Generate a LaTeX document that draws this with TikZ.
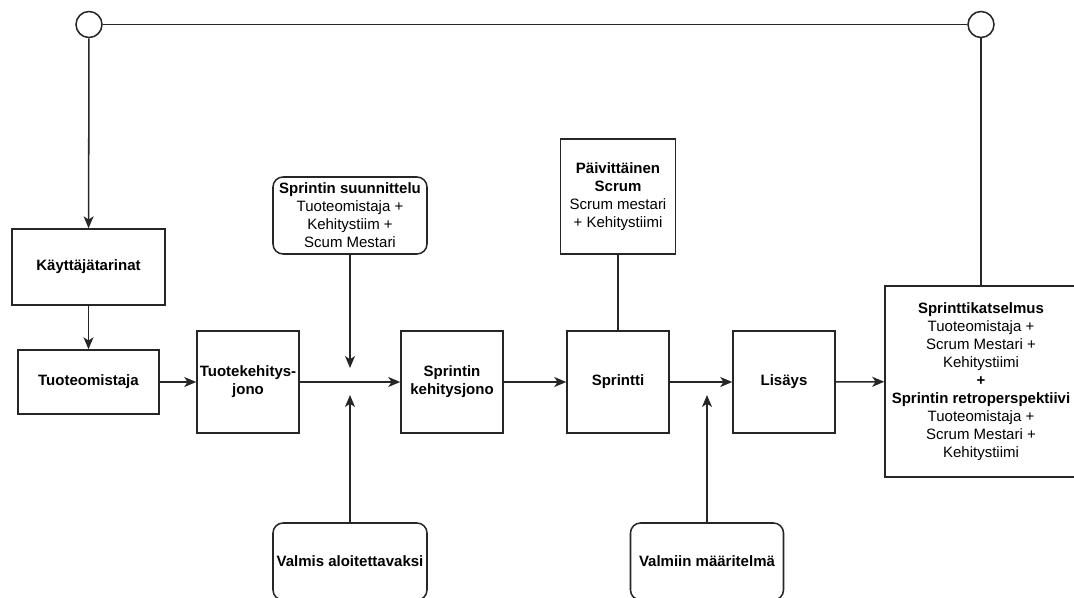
\documentclass[tikz,border=0pt]{standalone}
\usepackage{fontspec}
\setmainfont{Liberation Sans}
\usetikzlibrary{arrows.meta}
\begin{document}
\begin{tikzpicture}[x=0.75pt,y=-0.75pt,
  wh/.style 2 args={minimum width=#1*0.75pt, minimum height=#2*0.75pt},
  box/.style={draw=black!85, line width=1.15pt, fill=white, align=center, inner sep=0pt,
    font=\fontsize{11.25pt}{13.5pt}\selectfont},
  rbox/.style={box, rounded corners=7.5pt},
  circ/.style={draw=black!85, line width=1.15pt, circle, minimum size=19.5pt, inner sep=0pt, fill=white},
  conn/.style={draw=black!85, line width=1.15pt},
  arr/.style={conn, -{Stealth[length=9pt,width=7.5pt,inset=2.5pt]}},
]
\useasboundingbox (0,0) rectangle (1074,597);

\node[circ] (c1) at (89,24.5) {};
\node[circ] (c2) at (981,24.5) {};

\node[box, wh={153}{76}] (kt) at (88.5,267) {\textbf{Käyttäjätarinat}};
\node[box, wh={141}{64}] (to) at (88.5,382) {\textbf{Tuoteomistaja}};
\node[box, wh={102}{102}] (tkj) at (248,382) {\textbf{Tuotekehitys-}\\\textbf{jono}};
\node[box, wh={102}{102}] (skj) at (452,382) {\textbf{Sprintin}\\\textbf{kehitysjono}};
\node[box, wh={102}{102}] (sp) at (618,382) {\textbf{Sprintti}};
\node[box, wh={102}{102}] (li) at (784,382) {\textbf{Lisäys}};
\node[box, wh={192}{191}] (rev) at (981,381.5) {\textbf{Sprinttikatselmus}\\Tuoteomistaja +\\Scrum Mestari +\\Kehitystiimi\\\textbf{+}\\\textbf{Sprintin retroperspektiivi}\\Tuoteomistaja +\\Scrum Mestari +\\Kehitystiimi};

\node[rbox, wh={154}{77}] (ss) at (350,215.5) {\textbf{Sprintin suunnittelu}\\Tuoteomistaja +\\Kehitystiim +\\Scum Mestari};
\node[box, wh={115}{115}] (ps) at (618,196.5) {\textbf{Päivittäinen}\\\textbf{Scrum}\\Scrum mestari\\+ Kehitystiimi};
\node[rbox, wh={154}{77}] (va) at (350,561.5) {\textbf{Valmis aloitettavaksi}};
\node[rbox, wh={153}{77}] (vm) at (707,561.5) {\textbf{Valmiin määritelmä}};

\coordinate (j1t) at (350,368);
\coordinate (j1b) at (350,395);
\coordinate (j2b) at (707,395);

\draw[conn] (c1) -- (c2);
\draw[arr] (c1) -- (kt);
\draw[conn] (c2) -- (rev);
\draw[arr] (kt) -- (to);
\draw[arr] (to) -- (tkj);
\draw[arr] (tkj) -- (skj);
\draw[arr] (ss) -- (j1t);
\draw[arr] (va) -- (j1b);
\draw[arr] (skj) -- (sp);
\draw[conn] (ps) -- (sp);
\draw[arr] (sp) -- (li);
\draw[arr] (vm) -- (j2b);
\draw[arr] (li) -- (rev);
\end{tikzpicture}
\end{document}
